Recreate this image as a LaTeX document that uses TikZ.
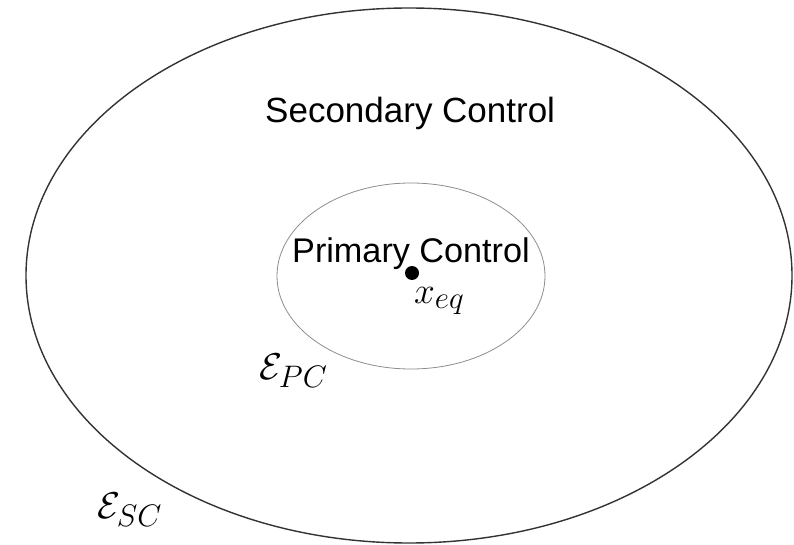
\documentclass[tikz,border=0pt]{standalone}
\usepackage{fontspec}
\setmainfont{Liberation Sans}
\usetikzlibrary{shapes.geometric}
\newcommand{\largemath}[1]{\scalebox{1.5}{$#1$}}
\tikzset{
  region/.style={draw, ellipse, inner sep=0pt},
  outerregion/.style={region, draw=black!80, line width=1.4pt},
  innerregion/.style={region, draw=black!45, line width=0.8pt},
  caption/.style={inner sep=0pt, anchor=base west, font=\fontsize{34}{40}\selectfont},
  mathlabel/.style={inner sep=0pt, anchor=base west, font=\fontsize{24.88}{30}\selectfont},
  eqpoint/.style={circle, fill=black, inner sep=0pt, minimum size=14pt}
}
\begin{document}
\begin{tikzpicture}[x=1pt, y=-1pt]
  \useasboundingbox (0,0) rectangle (794,545);
  % nested regions of attraction
  \node[outerregion, minimum width=766pt, minimum height=535pt] (sc) at (409,275.5) {};
  \node[innerregion, minimum width=268pt, minimum height=186pt] (pc) at (411,276) {};
  % labels
  \node[caption, font=\fontsize{35}{42}\selectfont] (sctext) at (265,123) {Secondary Control};
  \node[caption, font=\fontsize{34.2}{40}\selectfont] (pctext) at (292,262) {Primary Control};
  \node[eqpoint] (xeq) at (412,273) {};
  \node[mathlabel] (xeqlabel) at (414,303) {\largemath{x_{eq}}};
  \node[mathlabel] (epc) at (259,379) {\largemath{\mathcal{E}_{PC}}};
  \node[mathlabel] (esc) at (97,518) {\largemath{\mathcal{E}_{SC}}};
\end{tikzpicture}
\end{document}
